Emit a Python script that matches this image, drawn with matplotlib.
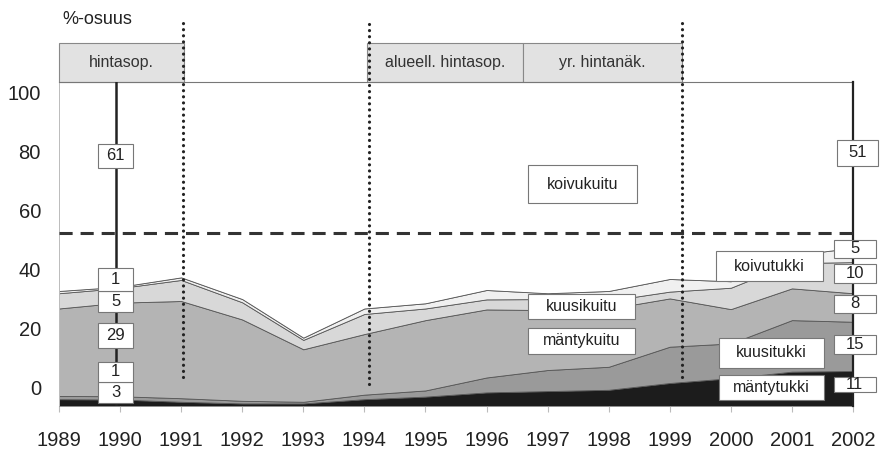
import numpy as np
import matplotlib.pyplot as plt
from matplotlib.patches import Rectangle

plt.rcParams['font.family'] = ['Liberation Sans', 'DejaVu Sans']

# Vuodet ja osuudet (%), luettu kuvasta
years = np.arange(1989, 2003)
mantytukki = [2.1, 2.0, 1.3, 0.8, 0.8, 2.1, 2.9, 4.2, 4.6, 5.0, 7.1, 8.6, 10.6, 10.8]
kuusitukki = [1.0, 1.0, 1.1, 0.8, 0.5, 1.4, 1.9, 4.6, 6.5, 7.1, 11.2, 10.7, 15.9, 15.2]
mantykuitu = [27.0, 28.9, 30.0, 25.1, 16.2, 18.7, 21.7, 21.0, 18.5, 17.9, 14.9, 10.6, 9.8, 8.8]
kuusikuitu = [4.7, 4.5, 6.5, 5.3, 2.9, 6.2, 3.6, 3.1, 3.4, 2.5, 2.1, 6.6, 7.8, 9.6]
koivutukki = [0.7, 0.4, 0.8, 1.0, 0.7, 1.7, 1.6, 2.9, 1.8, 3.0, 3.9, 2.0, 2.4, 4.4]
koivukuitu = [64.5, 63.2, 60.3, 67.0, 78.9, 69.9, 68.3, 64.2, 65.2, 64.5, 60.8, 61.5, 53.5, 51.2]

# Laatikoiden arvot vuosille 1990 ja 2002 (alhaalta ylös)
labels_1990 = [3, 1, 29, 5, 1, 61]
labels_2002 = [11, 15, 8, 10, 5, 51]

# Hinnoittelujaksot
periods = ['hintasop.', 'alueell. hintasop.', 'yr. hintanäk.']
period_start = [1989.0, 1994.05, 1996.6]
period_end = [1991.05, 1996.6, 1999.2]
period_marks = [1991.03, 1994.08, 1999.2]

kuitu_raja = 53.4

colors = ['#1c1c1c', '#9a9a9a', '#b4b4b4', '#d8d8d8', '#f0f0f0', 'white']

fig = plt.figure(figsize=(8.82, 4.5), dpi=100)
ax = fig.add_axes([0.0669, 0.0978, 0.9002, 0.72])

ax.stackplot(years, mantytukki, kuusitukki, mantykuitu, kuusikuitu, koivutukki,
             koivukuitu, colors=colors, edgecolor='#555555', linewidth=0.6)

ax.set_xlim(1989, 2002)
ax.set_ylim(0, 100)

ax.set_xticks(years)
ax.set_xticklabels([str(y) for y in years], fontsize=14.5, color='#222222')
ax.tick_params(axis='x', length=4, color='#bbbbbb', pad=14)
ax.set_yticks(np.linspace(5.6, 96.9, 6))
ax.set_yticklabels(['0', '20', '40', '60', '80', '100'], fontsize=14.5, color='#222222')
ax.tick_params(axis='y', length=0, pad=13)

ax.spines['top'].set_color('#777777')
ax.spines['top'].set_linewidth(0.8)
ax.spines['left'].set_color('#cccccc')
ax.spines['left'].set_linewidth(0.6)
ax.spines['bottom'].set_color('#999999')
ax.spines['bottom'].set_linewidth(0.6)
ax.spines['right'].set_visible(False)

# Pystyviivat
ax.plot([1989.93, 1989.93], [0, 100], color='#222222', lw=1.8, zorder=3)
ax.plot([2002, 2002], [0, 100], color='#222222', lw=1.6, zorder=3, clip_on=False)
for xm, yb in zip(period_marks, [9.0, 6.8, 9.0]):
    ax.plot([xm, xm], [yb, 118.5], color='#222222', lw=2.3, ls=(0, (0.01, 1.9)),
            dash_capstyle='round', clip_on=False, zorder=4)

# Katkoviiva
ax.plot([1989, 2002], [kuitu_raja, kuitu_raja], color='#333333', lw=2.2,
        ls=(0, (4.3, 2.6)), zorder=3)

# Jaksolaatikot
for name, x0, x1 in zip(periods, period_start, period_end):
    ax.add_patch(Rectangle((x0, 100), x1 - x0, 12, facecolor='#e2e2e2',
                           edgecolor='#888888', lw=0.8, clip_on=False, zorder=2))
    ax.text((x0 + x1) / 2, 106, name, ha='center', va='center', fontsize=11.5,
            color='#333333', clip_on=False)


def box(x, y, w, h, txt, fs=11.5):
    ax.add_patch(Rectangle((x - w / 2, y - h / 2), w, h, facecolor='white',
                           edgecolor='#777777', lw=0.8, clip_on=False, zorder=5))
    ax.text(x, y, txt, ha='center', va='center', fontsize=fs, color='#222222',
            zorder=6, clip_on=False)


# Arvolaatikot 1990
left_y = [4.2, 10.5, 21.8, 32.3, 39.0, 77.2]
left_h = [6.4, 6.2, 7.7, 6.5, 7.0, 7.4]
for v, y, h in zip(labels_1990, left_y, left_h):
    box(1989.93, y, 0.57, h, str(v), fs=12)

# Arvolaatikot 2002
right_y = [6.6, 19.0, 31.5, 40.9, 48.5]
right_h = [4.8, 5.9, 5.6, 5.9, 5.6]
for v, y, h in zip(labels_2002[:5], right_y, right_h):
    box(2002.03, y, 0.69, h, str(v), fs=12)
box(2002.07, 78.1, 0.67, 8.0, str(labels_2002[5]), fs=12)

# Lajinimet
box(1997.57, 68.5, 1.79, 11.7, 'koivukuitu')
box(1997.56, 30.6, 1.75, 7.7, 'kuusikuitu')
box(1997.56, 20.1, 1.75, 8.0, 'mäntykuitu')
box(2000.63, 43.2, 1.75, 9.3, 'koivutukki')
box(2000.66, 16.4, 1.72, 9.3, 'kuusitukki')
box(2000.66, 5.6, 1.72, 7.7, 'mäntytukki')

fig.text(0.0703, 0.956, '%-osuus', fontsize=13, va='center', color='#222222')

fig.savefig('out.png', dpi=100)
